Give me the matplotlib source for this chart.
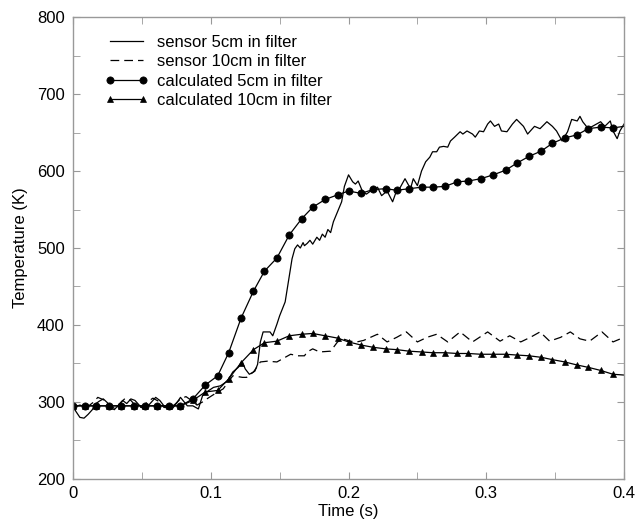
import numpy as np
import matplotlib.pyplot as plt
from matplotlib.ticker import MultipleLocator

plt.rcParams['font.family'] = ['Liberation Sans', 'DejaVu Sans']

# sensor 5cm in filter (measured)
t_s5 = [0.000, 0.002, 0.005, 0.008, 0.011, 0.014, 0.016, 0.019, 0.022, 0.025,
        0.027, 0.030, 0.033, 0.036, 0.039, 0.042, 0.045, 0.048, 0.051, 0.054,
        0.057, 0.060, 0.063, 0.066, 0.069, 0.072, 0.075, 0.078, 0.083, 0.087,
        0.091, 0.094, 0.097, 0.102, 0.107, 0.112, 0.116, 0.120, 0.123, 0.125,
        0.128, 0.132, 0.134, 0.136, 0.138, 0.143, 0.145, 0.148, 0.150, 0.154,
        0.159, 0.161, 0.163, 0.165, 0.167, 0.168, 0.170, 0.172, 0.174, 0.177,
        0.179, 0.181, 0.183, 0.185, 0.187, 0.189, 0.192,
        0.195, 0.197, 0.200, 0.203, 0.205, 0.207, 0.210, 0.213, 0.216, 0.218,
        0.221, 0.224, 0.228, 0.232, 0.234, 0.237, 0.241, 0.245, 0.247, 0.250,
        0.253, 0.256, 0.259, 0.261, 0.264, 0.266, 0.269, 0.272, 0.274, 0.277,
        0.281, 0.283, 0.286, 0.290, 0.292, 0.295, 0.298, 0.301, 0.303, 0.306,
        0.309, 0.311, 0.315, 0.319, 0.322, 0.327, 0.330, 0.335, 0.339, 0.344,
        0.348, 0.351, 0.355, 0.359, 0.362, 0.366, 0.368, 0.370, 0.374, 0.377,
        0.383, 0.386, 0.390, 0.392, 0.395, 0.397, 0.400]
T_s5 = [296, 288, 280, 279, 284, 290, 297, 301, 304, 299,
        293, 290, 296, 302, 298, 304, 302, 296, 291, 294,
        300, 306, 302, 295, 292, 291, 298, 306, 295, 295,
        291, 308, 313, 319, 321, 327, 339, 345, 352, 343,
        336, 340, 349, 378, 391, 391, 386, 401, 412, 430,
        486, 499, 504, 500, 507, 503, 506, 510, 505, 514,
        510, 518, 514, 524, 520, 534, 547,
        560, 580, 595, 586, 583, 587, 574, 570, 574, 573,
        579, 568, 574, 560, 570, 577, 590, 577, 590, 581,
        600, 612, 618, 625, 625, 631, 632, 631, 639, 644,
        651, 648, 652, 648, 644, 652, 651, 661, 665, 658,
        661, 652, 651, 661, 667, 658, 648, 658, 655, 664,
        658, 652, 639, 651, 667, 665, 671, 664, 655, 658,
        664, 658, 665, 652, 642, 652, 661]

# sensor 10cm in filter (measured)
t_s10 = [0.000, 0.005, 0.010, 0.015, 0.018, 0.022, 0.026, 0.030, 0.034, 0.038,
         0.042, 0.046, 0.050, 0.054, 0.058, 0.062, 0.066, 0.070, 0.074, 0.078,
         0.082, 0.086, 0.090, 0.094, 0.098, 0.105, 0.109, 0.116, 0.123, 0.126,
         0.131, 0.136, 0.141, 0.148, 0.152, 0.158, 0.163, 0.168, 0.170, 0.174,
         0.179, 0.187, 0.192, 0.196, 0.201, 0.206, 0.211, 0.216, 0.221, 0.228,
         0.235, 0.242, 0.250, 0.257, 0.264, 0.272, 0.281, 0.290, 0.301, 0.310,
         0.317, 0.325, 0.332, 0.339, 0.346, 0.354, 0.361, 0.368, 0.375, 0.384,
         0.392, 0.400]
T_s10 = [293, 296, 293, 300, 306, 303, 295, 292, 298, 305,
         302, 294, 293, 300, 305, 301, 293, 292, 297, 304,
         307, 302, 296, 300, 305, 313, 317, 334, 332, 332,
         339, 352, 353, 352, 356, 362, 360, 360, 365, 369,
         365, 366, 378, 382, 379, 378, 380, 384, 388, 378,
         384, 391, 378, 384, 388, 378, 391, 378, 391, 379,
         386, 378, 384, 391, 379, 384, 391, 382, 379, 391,
         378, 384]

# calculated curves (markers every output step, line ends at 0.4 s)
t_calc = [0.000, 0.009, 0.017, 0.026, 0.035, 0.044, 0.052, 0.061, 0.070, 0.078,
          0.087, 0.096, 0.105, 0.113, 0.122, 0.131, 0.139, 0.148, 0.157, 0.166,
          0.174, 0.183, 0.192, 0.200, 0.209, 0.218, 0.227, 0.235, 0.244, 0.253,
          0.261, 0.270, 0.279, 0.287, 0.296, 0.305, 0.314, 0.322, 0.331, 0.340,
          0.348, 0.357, 0.366, 0.374, 0.383, 0.392, 0.400]
T_calc5 = [295, 295, 295, 295, 295, 295, 295, 295, 295, 295,
           304, 322, 334, 364, 409, 444, 470, 487, 517, 538,
           553, 563, 569, 574, 571, 576, 577, 575, 577, 579,
           579, 580, 586, 587, 590, 595, 601, 610, 619, 626,
           636, 643, 647, 655, 657, 656, 658]
T_calc10 = [295, 295, 295, 295, 295, 295, 295, 295, 295, 295,
            302, 313, 315, 330, 351, 368, 377, 379, 386, 388,
            389, 386, 383, 378, 374, 371, 369, 368, 366, 365,
            364, 364, 363, 363, 362, 362, 362, 361, 360, 358,
            355, 352, 348, 345, 341, 336, 335]

marks = list(range(len(t_calc) - 1))

fig = plt.figure(figsize=(6.36, 5.22), dpi=100)
ax = fig.add_axes([0.1148, 0.0824, 0.8664, 0.885])

ax.plot(t_s5, T_s5, color='black', lw=0.9, label='sensor 5cm in filter')
ax.plot(t_s10, T_s10, color='black', lw=0.9, dashes=(7, 4), label='sensor 10cm in filter')
ax.plot(t_calc, T_calc5, color='black', lw=0.9, marker='o', ms=5.2, mew=0.5,
        markevery=marks, label='calculated 5cm in filter')
ax.plot(t_calc, T_calc10, color='black', lw=0.9, marker='^', ms=5, mew=0.5,
        markevery=marks, label='calculated 10cm in filter')

ax.set_xlim(0, 0.4)
ax.set_ylim(200, 800)
ax.set_xticks([0, 0.1, 0.2, 0.3, 0.4])
ax.set_xticklabels(['0', '0.1', '0.2', '0.3', '0.4'])
ax.xaxis.set_minor_locator(MultipleLocator(0.05))
ax.yaxis.set_major_locator(MultipleLocator(100))
ax.yaxis.set_minor_locator(MultipleLocator(50))
ax.tick_params(which='both', direction='in', top=True, right=True,
               color='#999999', labelsize=12, length=5)
ax.tick_params(axis='x', pad=5)
ax.tick_params(axis='y', pad=6)
for s in ax.spines.values():
    s.set_color('#999999')
    s.set_linewidth(1.0)

ax.set_xlabel('Time (s)', fontsize=12, labelpad=2)
ax.set_ylabel('Temperature (K)', fontsize=12, labelpad=6)

ax.legend(loc='upper left', bbox_to_anchor=(0.058, 0.962), frameon=False,
          numpoints=2, handlelength=2.6, handletextpad=0.55, labelspacing=0.27,
          fontsize=12, borderaxespad=0, borderpad=0)

fig.savefig('out.png', dpi=100)
